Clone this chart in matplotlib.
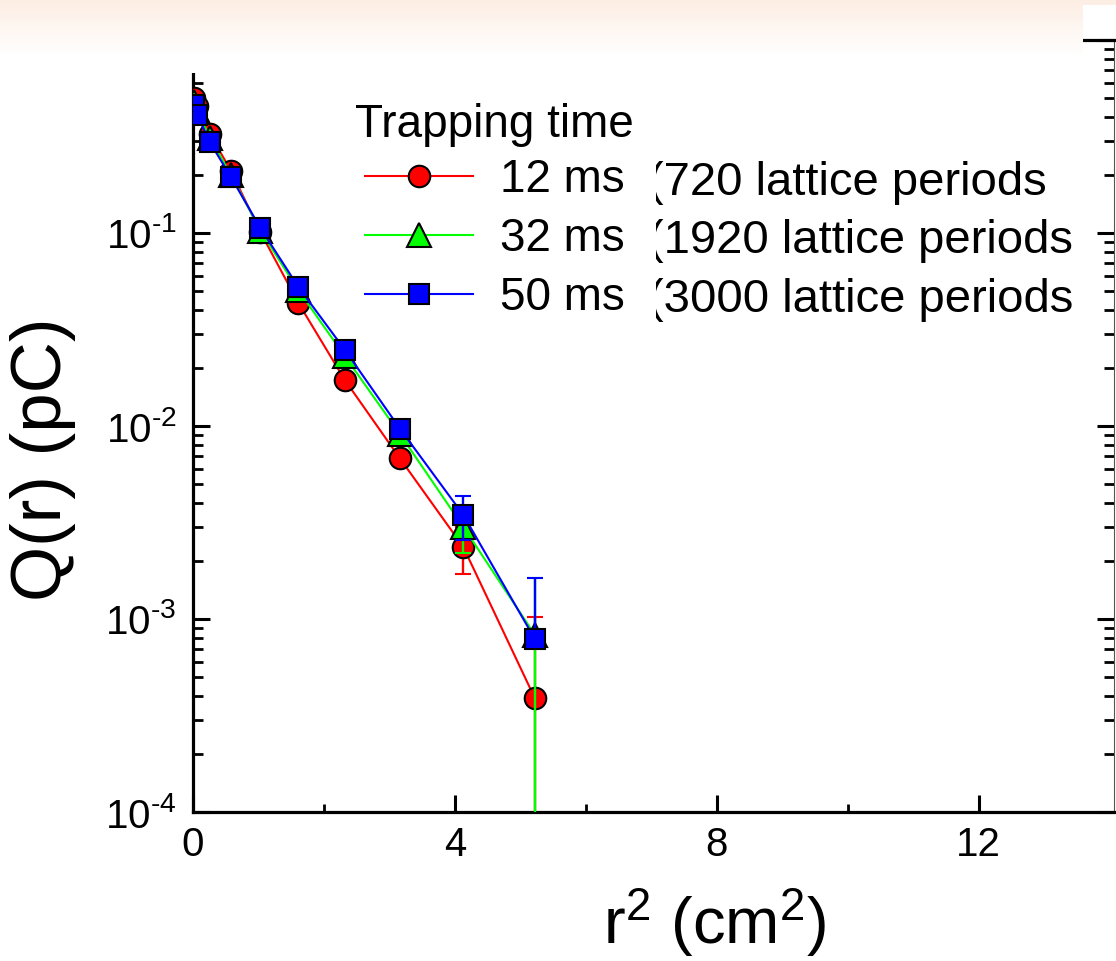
import numpy as np
import matplotlib
matplotlib.use('Agg')
import matplotlib.pyplot as plt
from matplotlib.ticker import FixedLocator, LogLocator, NullFormatter, FuncFormatter
from matplotlib.transforms import Bbox

plt.rcParams['font.family'] = ['Liberation Sans', 'DejaVu Sans']
plt.rcParams['mathtext.fontset'] = 'custom'
plt.rcParams['mathtext.rm'] = 'Liberation Sans'
plt.rcParams['mathtext.it'] = 'Liberation Sans:italic'
plt.rcParams['mathtext.default'] = 'regular'
plt.rcParams['axes.unicode_minus'] = False

# r^2 (cm^2)
r2 = [0.016, 0.065, 0.258, 0.58, 1.03, 1.61, 2.32, 3.16, 4.13, 5.22]

# Q(r) (pC) for each trapping time, with error bars (lower, upper)
q_12ms = [0.50, 0.455, 0.326, 0.21, 0.101, 0.0434, 0.0173, 0.0068, 0.00236, 0.00039]
err_12ms_lo = [0.015, 0.012, 0.009, 0.006, 0.003, 0.0015, 0.0007, 0.0004, 0.00064, 0.00063]
err_12ms_hi = [0.015, 0.012, 0.009, 0.006, 0.003, 0.0015, 0.0007, 0.0004, 0.00064, 0.00063]

q_32ms = [0.48, 0.435, 0.31, 0.20, 0.103, 0.0505, 0.0230, 0.0091, 0.0030, 0.00083]
err_32ms_lo = [0.015, 0.012, 0.009, 0.006, 0.003, 0.0016, 0.0008, 0.0005, 0.0008, 0.0008]
err_32ms_hi = [0.015, 0.012, 0.009, 0.006, 0.003, 0.0016, 0.0008, 0.0005, 0.0008, 0.0008]

q_50ms = [0.46, 0.41, 0.295, 0.195, 0.106, 0.0525, 0.0248, 0.0097, 0.00346, 0.00079]
err_50ms_lo = [0.015, 0.012, 0.009, 0.006, 0.003, 0.0016, 0.0008, 0.0004, 0.00088, 0.00005]
err_50ms_hi = [0.015, 0.012, 0.009, 0.006, 0.003, 0.0016, 0.0008, 0.0004, 0.00088, 0.00084]

labels = ['12 ms', '32 ms', '50 ms']
periods = ['(720 lattice periods', '(1920 lattice periods', '(3000 lattice periods']

W, H = 1116, 961
fig = plt.figure(figsize=(W / 100, H / 100), dpi=100)
fig.patch.set_facecolor('white')

ax = fig.add_axes([193 / W, 1 - 812 / H, (1114 - 193) / W, (812 - 40) / H])
ax.set_yscale('log')
ax.set_xlim(0, 14.07)
ax.set_ylim(1e-4, 1)

series = [
    (q_12ms, err_12ms_lo, err_12ms_hi, '#ff0000', 'o', 15.5, 3),
    (q_32ms, err_32ms_lo, err_32ms_hi, '#00ff00', '^', 17, 4),
    (q_50ms, err_50ms_lo, err_50ms_hi, '#0000ff', 's', 15, 5),
]
handles = []
for q, lo, hi, col, mk, ms, z in series:
    cont = ax.errorbar(r2, q, yerr=[lo, hi], color=col, lw=1.5, marker=mk, ms=ms,
                       mfc=col, mec='black', mew=1.5, ecolor=col, elinewidth=1.7,
                       capsize=6, capthick=2.0, zorder=z)
    handles.append(cont[0])

# axes frame
for s in ['left', 'bottom', 'top']:
    ax.spines[s].set_linewidth(2.3)
ax.spines['right'].set_linewidth(0.8)
ax.spines['right'].set_color('#555555')


def dec_label(v, pos):
    e = int(round(np.log10(v)))
    if e < 0:
        return '10$^{\u2010%d}$' % abs(e)
    return '10$^{%d}$' % e


ax.xaxis.set_major_locator(FixedLocator([0, 4, 8, 12]))
ax.xaxis.set_minor_locator(FixedLocator([2, 6, 10]))
ax.yaxis.set_major_locator(LogLocator(base=10, numticks=10))
ax.yaxis.set_minor_locator(LogLocator(base=10, subs=np.arange(2, 10), numticks=10))
ax.yaxis.set_major_formatter(FuncFormatter(dec_label))
ax.yaxis.set_minor_formatter(NullFormatter())

ax.tick_params(which='both', direction='in', top=False, right=True, labelsize=29)
ax.tick_params(axis='y', which='major', length=12, width=2.2, pad=12)
ax.tick_params(axis='y', which='minor', length=7, width=2.0)
ax.tick_params(axis='x', which='major', length=12, width=2.2, pad=10)
ax.tick_params(axis='x', which='minor', length=6, width=2.0)

ax.set_xlabel('r$^2$ (cm$^2$)', fontsize=47, va='baseline')
ax.xaxis.set_label_coords(0.567, -0.171)
ax.set_ylabel('Q(r) (pC)', fontsize=51, va='center')
ax.yaxis.set_label_coords(-0.163, 0.457)

# legend
fig.text(355 / W, 1 - 137 / H, 'Trapping time', fontsize=33, va='baseline', ha='left')
leg = ax.legend(handles, labels, loc='upper left', bbox_to_anchor=(365 / W, 1 - 158 / H),
                bbox_transform=fig.transFigure, frameon=False, fontsize=33,
                handlelength=2.35, handletextpad=0.6, labelspacing=0.33,
                borderpad=0, borderaxespad=0)
baselines = [195, 253, 312]
for txt, yb in zip(periods, baselines):
    t = fig.text(648 / W, 1 - yb / H, txt, fontsize=34, va='baseline', ha='left')
    t.set_clip_box(Bbox.from_extents(656, 0, W, H))
    t.set_clip_on(True)

# slide background band covering the top of the frame
band_h = 73
band = np.ones((band_h, W, 4))
top_col = np.array([253, 238, 228]) / 255.0
for i in range(band_h):
    f = min(i / 55.0, 1.0)
    band[i, :, :3] = top_col * (1 - f) + f
band[5:, 1083:, 3] = 0.0
oax = fig.add_axes([0, 1 - band_h / H, 1, band_h / H])
oax.imshow(band, aspect='auto', interpolation='nearest')
oax.axis('off')
oax.set_zorder(10)

fig.savefig('out.png', dpi=100)
